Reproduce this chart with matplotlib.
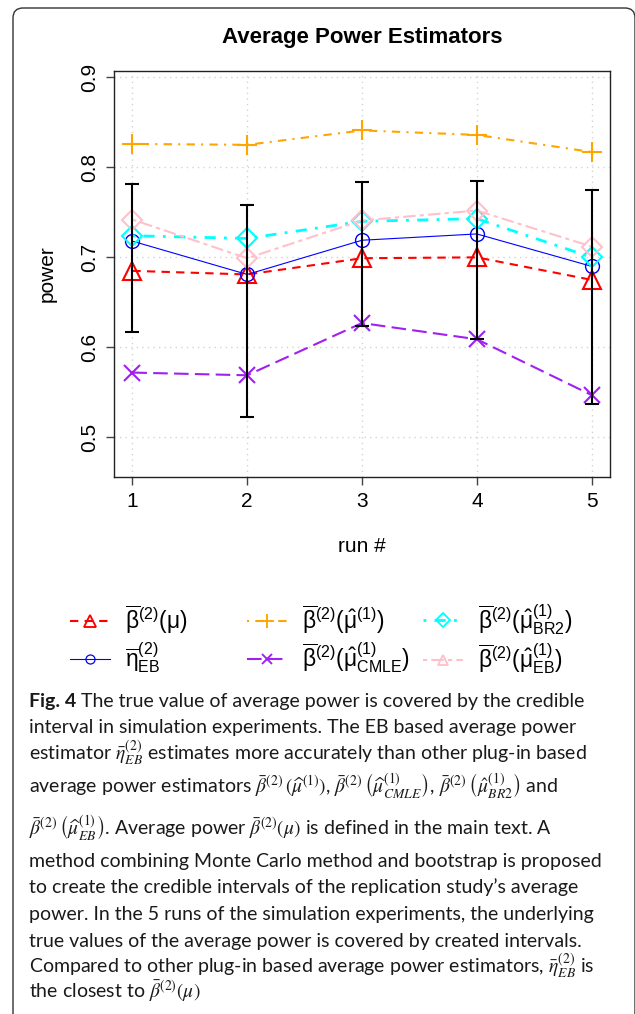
import matplotlib
matplotlib.use("Agg")
import matplotlib.pyplot as plt
from matplotlib.lines import Line2D
from matplotlib.patches import FancyBboxPatch
from matplotlib.transforms import IdentityTransform

W, H = 635, 1014

plt.rcParams["font.family"] = "Liberation Sans"
plt.rcParams["mathtext.fontset"] = "custom"
plt.rcParams["mathtext.rm"] = "Liberation Sans"
plt.rcParams["mathtext.it"] = "Liberation Sans:italic"
plt.rcParams["mathtext.bf"] = "Liberation Sans:bold"

# values
runs = [1, 2, 3, 4, 5]
beta_true = [0.685, 0.681, 0.699, 0.700, 0.675]      # red triangles
eta_eb = [0.718, 0.681, 0.719, 0.726, 0.690]         # blue circles
beta_plugin = [0.826, 0.825, 0.841, 0.836, 0.817]    # orange plus
beta_cmle = [0.572, 0.569, 0.627, 0.609, 0.547]      # purple cross
beta_br2 = [0.724, 0.721, 0.740, 0.743, 0.700]       # cyan diamonds
beta_eb = [0.742, 0.699, 0.741, 0.752, 0.712]        # pink diamonds
ci_lower = [0.617, 0.523, 0.624, 0.609, 0.537]
ci_upper = [0.781, 0.758, 0.784, 0.785, 0.775]

yticks = [0.5, 0.6, 0.7, 0.8, 0.9]

labels = [
    r"$\mathrm{\overline{\beta}^{(2)}(\mu)}$",
    r"$\mathrm{\overline{\eta}^{(2)}_{EB}}$",
    r"$\mathrm{\overline{\beta}^{(2)}(\hat{\mu}^{(1)})}$",
    r"$\mathrm{\overline{\beta}^{(2)}(\hat{\mu}^{(1)}_{CMLE})}$",
    r"$\mathrm{\overline{\beta}^{(2)}(\hat{\mu}^{(1)}_{BR2})}$",
    r"$\mathrm{\overline{\beta}^{(2)}(\hat{\mu}^{(1)}_{EB})}$",
]

caption_rest = "The true value of average power is covered by the credible"
caption_lines = [
    "interval in simulation experiments. The EB based average power",
    r"estimator $\bar{\eta}^{(2)}_{EB}$ estimates more accurately than other plug-in based",
    r"average power estimators $\bar{\beta}^{(2)}\,(\widehat{\mu}^{(1)})$, "
    r"$\bar{\beta}^{(2)}\,\left(\widehat{\mu}^{(1)}_{CMLE}\right)$, "
    r"$\bar{\beta}^{(2)}\,\left(\hat{\mu}^{(1)}_{BR2}\right)$ and",
    r"$\bar{\beta}^{(2)}\,\left(\widehat{\mu}^{(1)}_{EB}\right)$. Average power "
    r"$\bar{\beta}^{(2)}(\mu)$ is defined in the main text. A",
    "method combining Monte Carlo method and bootstrap is proposed",
    "to create the credible intervals of the replication study\u2019s average",
    "power. In the 5 runs of the simulation experiments, the underlying",
    "true values of the average power is covered by created intervals.",
    r"Compared to other plug-in based average power estimators, $\bar{\eta}^{(2)}_{EB}$ is",
    r"the closest to $\bar{\beta}^{(2)}(\mu)$",
]
caption_baselines = [733, 760, 793, 835, 867, 893, 920, 947, 973, 998]

# (values, colour, marker, markersize, edge width, line width, dashes)
styles = [
    (beta_true, "red", "^", 13.5, 1.5, 1.5, (4, 3)),
    (eta_eb, "blue", "o", 10, 1.0, 0.8, None),
    (beta_plugin, "orange", "+", 14.5, 1.5, 1.5, (1, 3, 4, 3)),
    (beta_cmle, "#A020F0", "x", 11, 1.5, 1.5, (7, 3)),
    (beta_br2, "cyan", "D", 10.5, 1.5, 2.0, (1, 3, 4, 3)),
    (beta_eb, "pink", "D", 10.5, 1.5, 1.5, (2, 2, 6, 2)),
]
legend_markers = ["^", "o", "+", "x", "D", "^"]

fig = plt.figure(figsize=(W / 100, H / 100), dpi=100)
ax = fig.add_axes([114 / W, 1 - 477 / H, 496 / W, 406 / H])

ax.set_xlim(0.84, 5.16)
ax.set_ylim(0.456, 0.907)
ax.set_xticks(runs)
ax.set_yticks(yticks)
ax.set_yticklabels([f"{v:.1f}" for v in yticks])
ax.grid(True, color="#D3D3D3", linestyle=(0, (1, 3)), linewidth=1.0)
ax.set_axisbelow(True)

handles = []
for (vals, col, mk, ms, mew, lw, dash), lmk in zip(styles, legend_markers):
    ls = "-" if dash is None else (0, dash)
    ax.plot(runs, vals, color=col, marker=mk, markersize=ms, markeredgewidth=mew,
            markerfacecolor="none", linewidth=lw, linestyle=ls, zorder=3)
    handles.append(Line2D([], [], color=col, marker=lmk, markersize=ms * 0.65,
                          markeredgewidth=mew * 0.9, markerfacecolor="none",
                          linewidth=lw, linestyle=ls))

mid = [(lo + hi) / 2 for lo, hi in zip(ci_lower, ci_upper)]
err = [[m - lo for m, lo in zip(mid, ci_lower)], [hi - m for m, hi in zip(mid, ci_upper)]]
ax.errorbar(runs, mid, yerr=err, fmt="none", ecolor="black", elinewidth=1.5,
            capsize=5, capthick=1.5, zorder=5)

for sp in ax.spines.values():
    sp.set_color("#222222")
    sp.set_linewidth(1.0)
ax.tick_params(axis="both", labelsize=15, length=5.5, width=1.0, color="#444444", pad=5)
ax.tick_params(axis="y", labelrotation=90)
for t in ax.get_yticklabels():
    t.set_va("center")

ax.set_title("Average Power Estimators", fontsize=16, fontweight="bold", pad=20)
ax.set_ylabel("power", fontsize=15)
ax.yaxis.set_label_coords(-0.115, 0.5)
ax.set_xlabel("run #", fontsize=15)
ax.xaxis.set_label_coords(0.5, -0.148)

# legend in three columns
col_x = [70, 247, 423]
for i, x0 in enumerate(col_x):
    fig.legend(handles=handles[2 * i:2 * i + 2], labels=labels[2 * i:2 * i + 2],
               loc="center left", bbox_to_anchor=(x0 / W, 1 - 639 / H),
               frameon=False, borderpad=0, borderaxespad=0, fontsize=16.5,
               handlelength=1.75, handletextpad=0.65, labelspacing=0.2)

# caption
cap_kw = dict(fontsize=14, family="Lato", math_fontfamily="stix", color="#1a1a1a")
fig_lbl = fig.text(29 / W, 1 - 707 / H, "Fig. 4", fontweight="bold", va="baseline",
                   **cap_kw)
ax.annotate(caption_rest, xy=(1, 0), xycoords=fig_lbl, xytext=(5, 0),
            textcoords="offset pixels", va="bottom", ha="left",
            annotation_clip=False, **cap_kw)
for line, yb in zip(caption_lines, caption_baselines):
    fig.text(29 / W, 1 - yb / H, line, va="baseline", ha="left", **cap_kw)

# rounded frame around the panel
frame = FancyBboxPatch((13, -30), 622, H - 8 + 30,
                       boxstyle="round,pad=0,rounding_size=10",
                       transform=IdentityTransform(), facecolor="none",
                       edgecolor="#333333", linewidth=1.0)
fig.add_artist(frame)

fig.savefig("out.png", dpi=100)
